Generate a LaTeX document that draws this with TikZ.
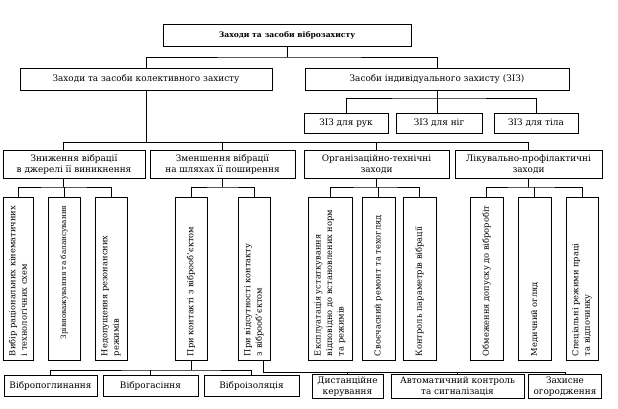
\documentclass[tikz,border=0pt]{standalone}
\usepackage{fontspec}
\usepackage{graphicx}
\setmainfont{DejaVu Serif}
\newcommand\myfs{\fontsize{8.3}{10.5}\selectfont}
\newcommand\myhfs{\fontsize{8.9}{11}\selectfont}
\newcommand\myfsb{\fontsize{7.6}{9}\selectfont\bfseries}
\newcommand\vtxt[2][155pt]{\rotatebox{90}{\begin{minipage}{#1}\raggedright\myfs\baselineskip=11.5pt #2\end{minipage}}}
\begin{document}
\begin{tikzpicture}[x=1pt,y=-1pt,
  box/.style={draw, line width=0.8pt, inner sep=0pt, align=center, font=\myhfs},
  ln/.style={line width=0.7pt},
  hb/.style={box, minimum height=22pt},
  zb/.style={box, minimum height=20pt},
  lb/.style={box, minimum height=28pt},
  vb/.style={box, minimum height=163pt},
  bb/.style={box, minimum height=21pt},
  bc/.style={box, minimum height=24pt}
]
\useasboundingbox (0,0) rectangle (618,408);
% level 1
\node[hb, font=\myfsb, minimum width=248pt] (top) at (287,35) {Заходи та засоби віброзахисту};
% level 2
\node[hb, minimum width=252pt] (col) at (146,79) {Заходи та засоби колективного захисту};
\node[hb, minimum width=264pt] (ind) at (437,79) {Засоби індивідуального захисту (ЗІЗ)};
% ZIZ
\node[zb, minimum width=84pt] (z1) at (346,123) {ЗІЗ для рук};
\node[zb, minimum width=86pt] (z2) at (439,123) {ЗІЗ для ніг};
\node[zb, minimum width=84pt] (z3) at (536,123) {ЗІЗ для тіла};
% level 3
\node[lb, minimum width=142pt] (a) at (74,164) {Зниження вібрації\\в джерелі її виникнення};
\node[lb, minimum width=145pt] (b) at (222.5,164) {Зменшення вібрації\\на шляхах її поширення};
\node[lb, minimum width=145pt] (c) at (376.5,164) {Організаційно-технічні\\заходи};
\node[lb, minimum width=147pt] (d) at (528.5,164) {Лікувально-профілактичні\\заходи};
% vertical boxes
\node[vb, minimum width=30pt] (v1) at (18,278.5) {\vtxt{Вибір раціональних кінематичних\\і технологічних схем}};
\node[vb, minimum width=32pt] (v2) at (64,278.5) {\rotatebox{90}{\begin{minipage}{146pt}\raggedleft\fontsize{7.3}{8.5}\selectfont Зрівноважування та балансування\end{minipage}}};
\node[vb, minimum width=32pt] (v3) at (111,278.5) {\vtxt{Недопущення резонансних\\режимів}};
\node[vb, minimum width=32pt] (v4) at (191,278.5) {\vtxt{При контакті з віброоб'єктом}};
\node[vb, minimum width=32pt] (v5) at (254,278.5) {\vtxt{При відсутності контакту\\з віброоб'єктом}};
\node[vb, minimum width=44pt] (v6) at (330,278.5) {\vtxt{Експлуатація устаткування\\відповідно до встановлених норм\\та режимів}};
\node[vb, minimum width=33pt] (v7) at (378.5,278.5) {\vtxt{Своєчасний ремонт та техогляд}};
\node[vb, minimum width=33pt] (v8) at (419.5,278.5) {\vtxt{Контроль параметрів вібрації}};
\node[vb, minimum width=33pt] (v9) at (486.5,278.5) {\vtxt{Обмеження допуску до віброробіт}};
\node[vb, minimum width=33pt] (v10) at (534.5,278.5) {\vtxt{Медичний огляд}};
\node[vb, minimum width=32pt] (v11) at (582,278.5) {\vtxt{Спеціальні режими праці\\та відпочинку}};
% bottom boxes
\node[bb, minimum width=93pt] (b1) at (50.5,385.5) {Вібропоглинання};
\node[bb, minimum width=95pt] (b2) at (150.5,385.5) {Віброгасіння};
\node[bb, minimum width=95pt] (b3) at (251.5,385.5) {Віброізоляція};
\node[bc, minimum width=71pt] (b4) at (347.5,386.5) {Дистанційне\\керування};
\node[bc, minimum width=133pt] (b5) at (457.5,386.5) {Автоматичний контроль\\та сигналізація};
\node[bc, minimum width=73pt] (b6) at (565,386.5) {Захисне\\огородження};
% connectors
\coordinate (t1) at (287,57);
\draw[ln] (top) -- (t1);
\draw[ln] (col.north) |- (t1) -| (ind.north);
\coordinate (t2) at (437,98);
\draw[ln] (ind) -- (t2);
\draw[ln] (z1.north) |- (t2) -| (z3.north);
\draw[ln] (t2) -- (t2 |- z2.north);
\coordinate (t3) at (146,142);
\coordinate (ca) at (63,142);
\draw[ln] (col) -- (t3);
\draw[ln] (ca |- a.north) -- (ca) -- (d.north |- ca) -- (d.north);
\draw[ln] (b.north) -- (b.north |- ca);
\draw[ln] (c.north) -- (c.north |- ca);
% groups under level 3
\coordinate (ga) at (63,187);
\draw[ln] (ga |- a.south) -- (ga);
\draw[ln] (v1.north) |- (ga) -| (v3.north);
\draw[ln] (v2.north) -- (v2.north |- ga);
\coordinate (gb) at (222.5,187);
\draw[ln] (b.south) -- (gb);
\draw[ln] (v4.north) |- (gb) -| (v5.north);
\coordinate (gc) at (376.5,187);
\draw[ln] (c.south) -- (gc);
\draw[ln] (v6.north) |- (gc) -| (v8.north);
\draw[ln] (v7.north) -- (v7.north |- gc);
\coordinate (gd) at (528.5,187);
\draw[ln] (d.south) -- (gd);
\draw[ln] (v9.north) |- (gd) -| (v11.north);
\draw[ln] (v10.north) -- (v10.north |- gd);
% bottom groups
\coordinate (hb) at (191,370);
\draw[ln] (v4.south) -- (hb);
\draw[ln] (b1.north) |- (hb) -| (b3.north);
\draw[ln] (b2.north) -- (b2.north |- hb);
\coordinate (hc) at (263,372);
\draw[ln] (hc |- v5.south) -- (hc) -- (b6.north |- hc) -- (b6.north);
\draw[ln] (b4.north) -- (b4.north |- hc);
\draw[ln] (b5.north) -- (b5.north |- hc);
\end{tikzpicture}
\end{document}
